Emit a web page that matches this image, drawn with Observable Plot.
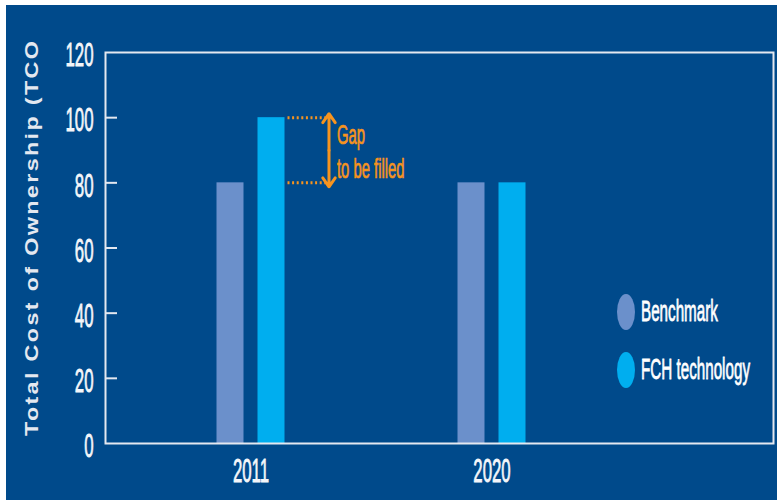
<!DOCTYPE html>
<html>
<head>
<meta charset="utf-8">
<script src="https://cdn.jsdelivr.net/npm/d3@7"></script>
<script src="https://cdn.jsdelivr.net/npm/@observablehq/plot@0.6"></script>
<style>
  html, body { margin: 0; padding: 0; background: #ffffff; }
  #wrap { position: absolute; left: 6px; top: 5px; width: 771px; height: 495px; background: #004a8b; overflow: hidden; }
  #chart svg { display: block; }
  .leg { position: absolute; left: 611px; display: flex; align-items: center; }
  .leg .sw { width: 18px; height: 36px; border-radius: 50%; flex: none; }
  .leg .lb { margin-left: 6px; font-family: "Liberation Sans", Arial, sans-serif; font-size: 19px; color: #ffffff; -webkit-text-stroke: 0.5px #ffffff; display: inline-block; transform: scale(0.8, 1.55); transform-origin: left center; white-space: nowrap; }
</style>
</head>
<body>
<div id="wrap"><div id="chart"></div><div id="legend"></div></div>
<script>
// ---- data ----
const years = ["2011", "2020"];
const seriesNames = ["Benchmark", "FCH technology"];
const benchmark = [80, 80];
const fch = [100, 80];
const yTicks = [0, 20, 40, 60, 80, 100, 120];
const innerTicks = [20, 40, 60, 80, 100];
const yLabel = "Total Cost of Ownership (TCO";
const gapYear = "2011";
const gapText = "Gap\nto be filled";

// ---- style ----
const colors = ["#6b90cb", "#00aeef"];
const orange = "#f7941e";
const light = "#e4e8f0";
const textColor = "#f4f6fa";
const sans = '"Liberation Sans", Arial, sans-serif';

const benchData = years.map((y, i) => ({year: y, value: benchmark[i]}));
const fchData = years.map((y, i) => ({year: y, value: fch[i]}));
const gi = years.indexOf(gapYear);
const gapTop = fch[gi], gapBottom = benchmark[gi], gapMid = (gapTop + gapBottom) / 2;

const chart = Plot.plot({
  width: 771,
  height: 495,
  marginLeft: 99,
  marginRight: 4,
  marginTop: 47,
  marginBottom: 57,
  style: {background: "transparent", color: light, fontFamily: sans},
  x: {type: "band", domain: years, range: [123.5, 605.5], padding: 0},
  y: {domain: [0, 120]},
  marks: [
    Plot.barY(benchData, {x: "year", y: "value", fill: colors[0], insetLeft: 86.5, insetRight: 127.5}),
    Plot.barY(fchData, {x: "year", y: "value", fill: colors[1], insetLeft: 127.5, insetRight: 86.5}),
    Plot.frame({stroke: light, strokeWidth: 2}),
    Plot.axisY(innerTicks, {tickSize: 12, dx: 12, tickFormat: () => "", label: null, stroke: light, strokeWidth: 2}),
    Plot.axisY(yTicks, {tickSize: 0, tickPadding: 12, fontSize: 21, dy: 3, label: yLabel, labelAnchor: "center", labelOffset: 80, labelArrow: "none", fill: textColor}),
    Plot.axisX(years, {tickSize: 0, tickPadding: 15, fontSize: 21, label: null, fill: textColor}),
    Plot.tickY([{year: gapYear, v: gapTop}, {year: gapYear, v: gapBottom}], {x: "year", y: "v", insetLeft: 157.5, insetRight: 45.5, stroke: orange, strokeWidth: 3, strokeDasharray: "2,2.6"}),
    Plot.arrow([{year: gapYear, a: gapMid, b: gapTop}, {year: gapYear, a: gapMid, b: gapBottom}], {x1: "year", x2: "year", y1: "a", y2: "b", dx: 78, insetEnd: -4, stroke: orange, strokeWidth: 3, headLength: 13, headAngle: 70}),
    Plot.text([{year: gapYear, v: gapMid, t: gapText}], {x: "year", y: "v", text: "t", dx: 86, textAnchor: "start", lineHeight: 1.26, fontSize: 18.5, fill: orange})
  ]
});

// condensed, vertically stretched lettering as in the original artwork
chart.querySelectorAll("text").forEach(t => {
  const g = t.parentNode;
  const role = g ? g.getAttribute("aria-label") : "";
  const tr = t.getAttribute("transform") || "";
  if (role === "y-axis label") {
    const s = 1.3;
    t.setAttribute("textLength", String(395 / s));
    t.setAttribute("lengthAdjust", "spacing");
    t.style.fontFamily = sans;
    t.style.fontWeight = "bold";
    t.style.fontSize = "18px";
    t.setAttribute("fill", light);
    t.setAttribute("transform", `${tr} translate(9.5,0) scale(${s},1)`);
    return;
  }
  const isGap = role === "text";
  const col = isGap ? orange : textColor;
  t.setAttribute("stroke", col);
  t.setAttribute("stroke-width", "0.5");
  t.setAttribute("transform", `${tr} scale(0.8,${isGap ? 1.45 : 1.6})`);
});
document.getElementById("chart").appendChild(chart);

// legend
const legend = document.getElementById("legend");
const legTops = [289, 347];
seriesNames.forEach((name, i) => {
  const d = document.createElement("div");
  d.className = "leg";
  d.style.top = legTops[i] + "px";
  d.innerHTML = `<div class="sw" style="background:${colors[i]}"></div><span class="lb">${name}</span>`;
  legend.appendChild(d);
});
</script>
</body>
</html>
